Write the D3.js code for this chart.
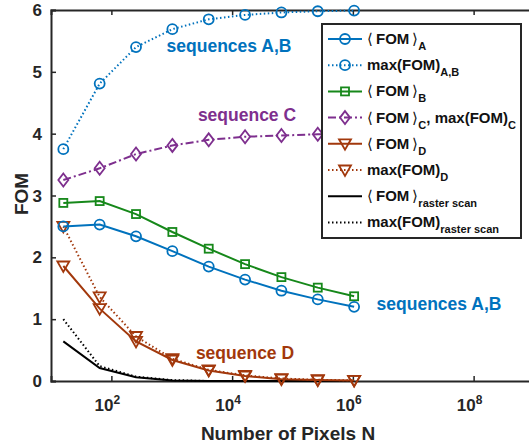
<!DOCTYPE html>
<html>
<head>
<meta charset="utf-8">
<script src="https://cdn.jsdelivr.net/npm/d3@7"></script>
<style>
  body { margin: 0; background: #fff; }
  svg { font-family: "Liberation Sans", Arial, sans-serif; font-weight: bold; }
</style>
</head>
<body>
<div id="chart"></div>
<script>
// Sizing
const svgWidth = 529, svgHeight = 446;
const plotLeft = 51, plotTop = 10, plotBottom = 381, plotRight = 534;

// Colours
const blue = "#0072bd", green = "#16881a", purple = "#7e2f8e", brown = "#a2380c", axisColor = "#262626";

// Data: N = 4^2 ... 4^10
const pixels = [16, 64, 256, 1024, 4096, 16384, 65536, 262144, 1048576];
const fomA = [2.50, 2.53, 2.34, 2.10, 1.85, 1.64, 1.46, 1.32, 1.20];
const maxAB = [3.75, 4.81, 5.40, 5.69, 5.85, 5.92, 5.96, 5.98, 5.99];
const fomB = [2.88, 2.91, 2.70, 2.41, 2.14, 1.89, 1.68, 1.51, 1.37];
const fomC = [3.25, 3.44, 3.67, 3.81, 3.90, 3.95, 3.97, 3.99, 4.00];
const fomD = [1.86, 1.17, 0.64, 0.34, 0.17, 0.08, 0.03, 0.015, 0.01];
const maxD = [2.50, 1.36, 0.72, 0.36, 0.18, 0.09, 0.04, 0.02, 0.01];
const fomRaster = [0.64, 0.21, 0.06, 0.01, 0, 0, 0, 0, 0];
const maxRaster = [1.00, 0.24, 0.07, 0.015, 0, 0, 0, 0, 0];
const xTicks = [1e2, 1e4, 1e6, 1e8];
const yTicks = [0, 1, 2, 3, 4, 5, 6];

const series = [
  { values: fomRaster, color: "#000", dash: null, marker: null },
  { values: maxRaster, color: "#000", dash: "1.5,2.5", marker: null },
  { values: maxD, color: brown, dash: "1.5,2.5", marker: "tri" },
  { values: fomD, color: brown, dash: null, marker: "tri" },
  { values: fomC, color: purple, dash: "8,3,2,3", marker: "diamond" },
  { values: fomB, color: green, dash: null, marker: "square" },
  { values: fomA, color: blue, dash: null, marker: "circle" },
  { values: maxAB, color: blue, dash: "1.5,2.5", marker: "circle" }
];

const svg = d3.select("#chart").append("svg")
  .attr("width", svgWidth).attr("height", svgHeight);

const x = d3.scaleLog().domain([10, 1e9]).range([plotLeft, plotRight]);
const y = d3.scaleLinear().domain([0, 6]).range([plotBottom, plotTop]);

// axes (MATLAB style, ticks inside)
svg.append("g").attr("transform", `translate(0,${plotBottom})`)
  .call(d3.axisBottom(x).tickValues(xTicks).tickSize(-5).tickFormat(""))
  .call(g => g.select(".domain").attr("stroke", axisColor).attr("stroke-width", 2));
svg.append("g").attr("transform", `translate(0,${plotTop})`)
  .call(d3.axisTop(x).tickValues(xTicks).tickSize(-5).tickFormat(""))
  .call(g => g.select(".domain").attr("stroke", axisColor).attr("stroke-width", 2));
svg.append("g").attr("transform", `translate(${plotLeft},0)`)
  .call(d3.axisLeft(y).tickValues(yTicks).tickSize(-5).tickFormat(""))
  .call(g => g.select(".domain").attr("stroke", axisColor).attr("stroke-width", 2));
svg.selectAll(".tick line").attr("stroke", axisColor).attr("stroke-width", 1.5);

// tick labels
const xl = svg.append("g").selectAll("text").data(xTicks).enter().append("text")
  .attr("x", d => x(d) - 4).attr("y", plotBottom + 30)
  .attr("text-anchor", "middle").attr("fill", axisColor).style("font-size", "17px");
xl.append("tspan").text("10");
xl.append("tspan").attr("dy", -7).style("font-size", "12px").text(d => Math.round(Math.log10(d)));

svg.append("g").selectAll("text").data(yTicks).enter().append("text")
  .attr("x", plotLeft - 9).attr("y", d => y(d) + 6)
  .attr("text-anchor", "end").attr("fill", axisColor).style("font-size", "17px")
  .text(d => d);

svg.append("text").attr("x", 288).attr("y", 440).attr("text-anchor", "middle")
  .attr("fill", axisColor).style("font-size", "19px").text("Number of Pixels N");
svg.append("text").attr("transform", "translate(28,194) rotate(-90)").attr("text-anchor", "middle")
  .attr("fill", axisColor).style("font-size", "19px").text("FOM");

// markers
function drawMarker(g, type, color) {
  if (type === "circle") g.append("circle").attr("r", 5);
  else if (type === "square") g.append("rect").attr("x", -4).attr("y", -4).attr("width", 8).attr("height", 8);
  else if (type === "diamond") g.append("path").attr("d", "M0,-6.5L5,0L0,6.5L-5,0Z");
  else if (type === "tri") g.append("path").attr("d", "M-6,-4.5L6,-4.5L0,6Z");
  g.selectAll("*").attr("fill", "none").attr("stroke", color).attr("stroke-width", 1.8);
}

const line = d3.line().x((d, i) => x(pixels[i])).y(d => y(d));
const plot = svg.append("g");
series.forEach(s => {
  plot.append("path").attr("d", line(s.values)).attr("fill", "none")
    .attr("stroke", s.color).attr("stroke-width", 2)
    .attr("stroke-dasharray", s.dash);
  if (s.marker) {
    s.values.forEach((v, i) => {
      const g = plot.append("g").attr("transform", `translate(${x(pixels[i])},${y(v)})`);
      drawMarker(g, s.marker, s.color);
    });
  }
});

// annotations
const notes = [
  { text: "sequences A,B", x: 229, y: 52, color: blue },
  { text: "sequence C", x: 247, y: 121, color: purple },
  { text: "sequence D", x: 245, y: 359, color: brown },
  { text: "sequences A,B", x: 439, y: 310, color: blue }
];
svg.append("g").selectAll("text").data(notes).enter().append("text")
  .attr("x", d => d.x).attr("y", d => d.y).attr("text-anchor", "middle")
  .attr("fill", d => d.color).style("font-size", "17.5px").text(d => d.text);

// legend
const legendItems = [
  { main: "FOM", bracket: true, sub: "A", color: blue, dash: null, marker: "circle" },
  { main: "max(FOM)", bracket: false, sub: "A,B", color: blue, dash: "1.5,2.5", marker: "circle" },
  { main: "FOM", bracket: true, sub: "B", color: green, dash: null, marker: "square" },
  { main: "FOM", bracket: true, sub: "C", extra: ", max(FOM)", sub2: "C", color: purple, dash: "8,3,2,3", marker: "diamond" },
  { main: "FOM", bracket: true, sub: "D", color: brown, dash: null, marker: "tri" },
  { main: "max(FOM)", bracket: false, sub: "D", color: brown, dash: "1.5,2.5", marker: "tri" },
  { main: "FOM", bracket: true, sub: "raster scan", color: "#000", dash: null, marker: null },
  { main: "max(FOM)", bracket: false, sub: "raster scan", color: "#000", dash: "1.5,2.5", marker: null }
];
const lg = svg.append("g").attr("transform", "translate(322,24)");
lg.append("rect").attr("width", 199).attr("height", 214)
  .attr("fill", "#fff").attr("stroke", axisColor).attr("stroke-width", 2);
const rows = lg.selectAll(".row").data(legendItems).enter().append("g")
  .attr("transform", (d, i) => `translate(0,${15 + i * 26.2})`);
rows.append("line").attr("x1", 6).attr("x2", 40)
  .attr("stroke", d => d.color).attr("stroke-width", 2).attr("stroke-dasharray", d => d.dash);
rows.each(function (d) {
  if (d.marker) drawMarker(d3.select(this).append("g").attr("transform", "translate(23,0)"), d.marker, d.color);
});
const lt = rows.append("text").attr("x", 45).attr("y", 5).attr("fill", "#111").style("font-size", "15px");
lt.each(function (d) {
  const t = d3.select(this);
  if (d.bracket) {
    t.append("tspan").style("font-weight", "normal").text("\u27e8\u2009");
    t.append("tspan").text(d.main);
    t.append("tspan").style("font-weight", "normal").text("\u2009\u27e9");
  } else {
    t.append("tspan").text(d.main);
  }
  t.append("tspan").attr("dy", 6).style("font-size", "11px").text(d.sub);
  if (d.extra) {
    t.append("tspan").attr("dy", -6).text(d.extra);
    t.append("tspan").attr("dy", 6).style("font-size", "11px").text(d.sub2);
  }
});
</script>
</body>
</html>
